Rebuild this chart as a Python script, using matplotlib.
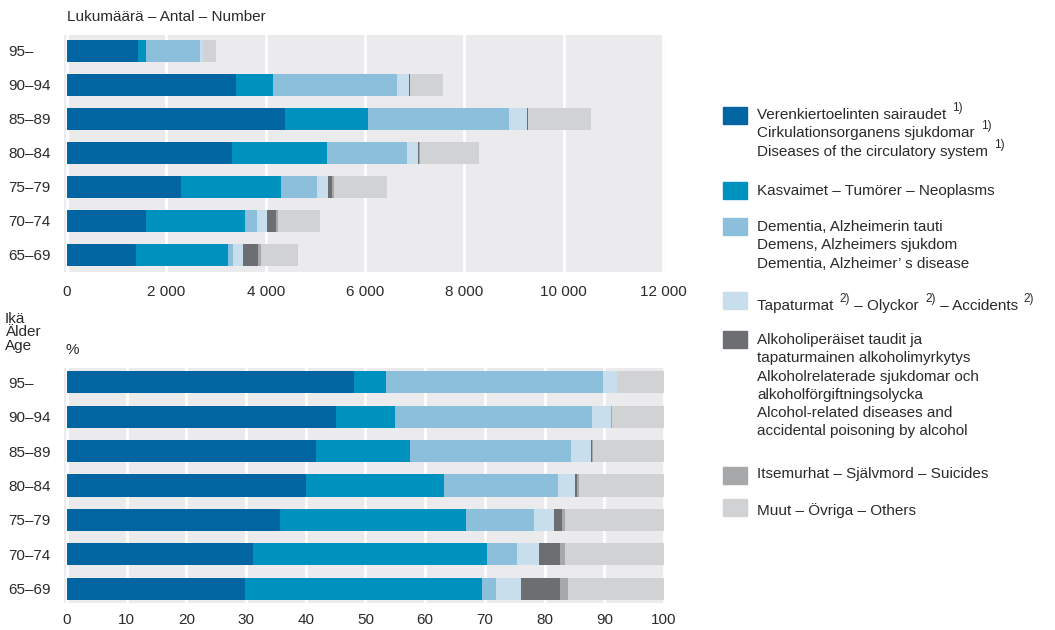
import matplotlib.pyplot as plt
from matplotlib.patches import Rectangle

plt.rcParams['font.family'] = ['Liberation Sans', 'DejaVu Sans']

ages = ["65–69", "70–74", "75–79", "80–84", "85–89", "90–94", "95–"]

# deaths by cause, number
circ = [1393, 1592, 2300, 3327, 4394, 3407, 1433]
neo = [1847, 1990, 2006, 1903, 1664, 748, 159]
dem = [103, 239, 733, 1608, 2849, 2484, 1091]
acc = [192, 215, 215, 230, 351, 254, 55]
alc = [310, 175, 79, 20, 15, 10, 0]
sui = [56, 32, 40, 12, 15, 8, 0]
oth = [748, 851, 1067, 1202, 1265, 669, 263]

# deaths by cause, %
circ_pct = [29.8, 31.1, 35.6, 40.0, 41.7, 45.1, 48.0]
neo_pct = [39.7, 39.3, 31.3, 23.1, 15.7, 9.8, 5.5]
dem_pct = [2.4, 4.9, 11.4, 19.2, 27.0, 33.0, 36.3]
acc_pct = [4.1, 3.7, 3.3, 2.8, 3.4, 3.2, 2.4]
alc_pct = [6.6, 3.6, 1.3, 0.4, 0.2, 0.1, 0.0]
sui_pct = [1.3, 0.8, 0.6, 0.2, 0.1, 0.1, 0.0]
oth_pct = [16.1, 16.6, 16.5, 14.3, 11.9, 8.7, 7.8]

count_ticks = [0, 2000, 4000, 6000, 8000, 10000, 12000]
count_labels = ["0", "2 000", "4 000", "6 000", "8 000", "10 000", "12 000"]
pct_ticks = [0, 10, 20, 30, 40, 50, 60, 70, 80, 90, 100]

colors = ["#0065a0", "#0092be", "#8bbfdb", "#c8deec", "#6d6e71", "#a7a8aa", "#d1d2d4"]
# each legend entry: list of lines, each line a list of (text, superscript?)
legend_lines = [
    [[("Verenkiertoelinten sairaudet ", False), ("1)", True)],
     [("Cirkulationsorganens sjukdomar ", False), ("1)", True)],
     [("Diseases of the circulatory system ", False), ("1)", True)]],
    [[("Kasvaimet – Tumörer – Neoplasms", False)]],
    [[("Dementia, Alzheimerin tauti", False)],
     [("Demens, Alzheimers sjukdom", False)],
     [("Dementia, Alzheimer’ s disease", False)]],
    [[("Tapaturmat ", False), ("2)", True), (" – Olyckor ", False), ("2)", True),
      (" – Accidents ", False), ("2)", True)]],
    [[("Alkoholiperäiset taudit ja", False)],
     [("tapaturmainen alkoholimyrkytys", False)],
     [("Alkoholrelaterade sjukdomar och", False)],
     [("alkoholförgiftningsolycka", False)],
     [("Alcohol-related diseases and", False)],
     [("accidental poisoning by alcohol", False)]],
    [[("Itsemurhat – Självmord – Suicides", False)]],
    [[("Muut – Övriga – Others", False)]],
]

TXT = "#2a2a2a"
FS = 11
W, H = 1055, 630


def stacked(ax, series):
    y = list(range(len(ages)))
    left = [0] * len(ages)
    for vals, c in zip(series, colors):
        ax.barh(y, vals, left=left, height=0.64, color=c, zorder=2)
        left = [a + b for a, b in zip(left, vals)]
    ax.set_facecolor("#ebebed")
    for s in ax.spines.values():
        s.set_visible(False)
    ax.grid(axis="x", color="white", lw=2, zorder=1)
    ax.set_axisbelow(True)
    ax.set_yticks(y)
    ax.set_yticklabels(ages, ha="left", color=TXT, fontsize=FS)
    ax.tick_params(length=0, labelcolor=TXT, labelsize=FS)
    ax.tick_params(axis="y", pad=40)


fig = plt.figure(figsize=(W / 100, H / 100), dpi=100)

ax1 = fig.add_axes([64 / W, 1 - 272 / H, 601 / W, 237 / H])
stacked(ax1, [circ, neo, dem, acc, alc, sui, oth])
ax1.set_xlim(-60, 12040)
ax1.set_ylim(-0.5, 6.47)
ax1.set_xticks(count_ticks)
ax1.set_xticklabels(count_labels)
ax1.tick_params(axis="x", pad=9)

ax2 = fig.add_axes([64 / W, 1 - 603 / H, 601 / W, 235 / H])
stacked(ax2, [circ_pct, neo_pct, dem_pct, acc_pct, alc_pct, sui_pct, oth_pct])
ax2.set_xlim(-0.5, 100.17)
ax2.set_ylim(-0.41, 6.41)
ax2.set_xticks(pct_ticks)
ax2.tick_params(axis="x", pad=7)

fig.text(67 / W, 1 - 17 / H, "Lukumäärä – Antal – Number", fontsize=FS,
         color=TXT, va="center")
fig.text(5 / W, 1 - 312 / H, "Ikä\nÄlder\nAge", fontsize=FS, color=TXT,
         va="top", linespacing=0.95)
fig.text(66 / W, 1 - 350 / H, "%", fontsize=FS, color=TXT, va="center")

# legend drawn by hand, one text per line so superscripts sit after the words
renderer = fig.canvas.get_renderer()
patch_tops = [107, 182, 218, 292, 331, 467, 499]
first_line = [115, 191, 227, 306, 340, 474, 511]
for top, yc, c, lines in zip(patch_tops, first_line, colors, legend_lines):
    fig.add_artist(Rectangle((723 / W, 1 - (top + 17) / H), 24 / W, 17 / H,
                             color=c, transform=fig.transFigure))
    for i, segs in enumerate(lines):
        y = yc + i * 18.3
        x = 757
        for s, sup in segs:
            if sup:
                t = fig.text((x + 2) / W, 1 - (y - 7) / H, s, fontsize=8.5,
                             color=TXT, va="center")
            else:
                t = fig.text(x / W, 1 - y / H, s, fontsize=FS, color=TXT,
                             va="center")
            x = t.get_window_extent(renderer).x1
fig.savefig("out.png", dpi=100)
